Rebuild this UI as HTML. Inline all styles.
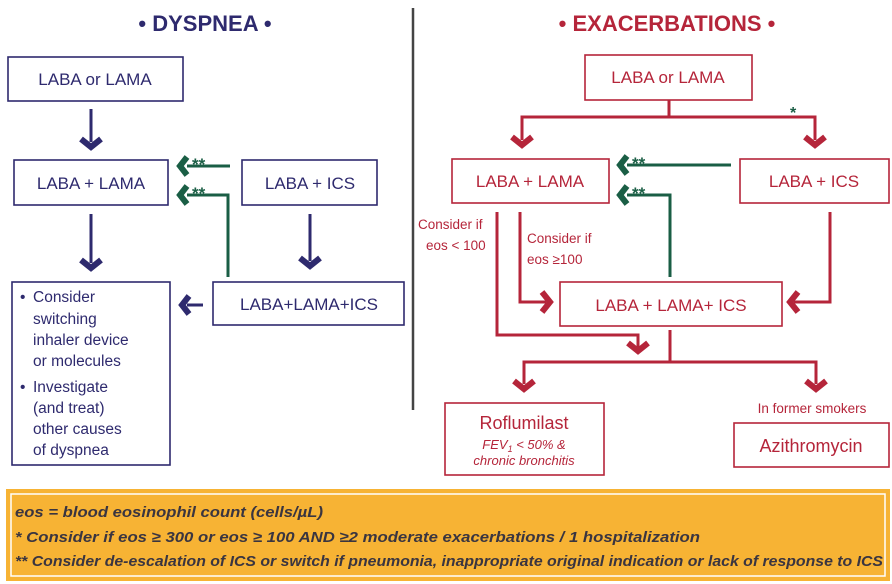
<!DOCTYPE html>
<html><head><meta charset="utf-8"><style>
html,body{margin:0;padding:0;background:#fff}
svg{display:block}
text{font-family:"Liberation Sans",sans-serif}
</style></head><body>
<svg width="892" height="584" viewBox="0 0 892 584" xmlns="http://www.w3.org/2000/svg">
<g fill="none" stroke-width="1.6">
<g stroke="#2e2a6e">
<rect x="8" y="57" width="175" height="44"/>
<rect x="14" y="160" width="154" height="45"/>
<rect x="242" y="160" width="135" height="45"/>
<rect x="12" y="282" width="158" height="183"/>
<rect x="213" y="282" width="191" height="43"/>
</g>
<g stroke="#b5253a">
<rect x="585" y="55" width="167" height="45"/>
<rect x="452" y="159" width="157" height="44"/>
<rect x="740" y="159" width="149" height="44"/>
<rect x="560" y="282" width="222" height="44"/>
<rect x="445" y="403" width="159" height="72"/>
<rect x="734" y="423" width="155" height="44"/>
</g>
</g>
<line x1="413" y1="8" x2="413" y2="410" stroke="#444" stroke-width="2.5"/>
<g stroke="#2e2a6e" fill="none">
<line x1="91" y1="109" x2="91" y2="142" stroke-width="3"/>
<polyline points="81,139 91,147 101,139" stroke-width="6"/>
<line x1="91" y1="214" x2="91" y2="263" stroke-width="3"/>
<polyline points="81,260 91,268 101,260" stroke-width="6"/>
<line x1="310" y1="214" x2="310" y2="261" stroke-width="3"/>
<polyline points="300,258 310,266 320,258" stroke-width="6"/>
<line x1="187" y1="305" x2="203" y2="305" stroke-width="3"/>
<polyline points="189,296 182,305 189,314" stroke-width="6"/>
</g>
<g stroke="#1a5e45" fill="none">
<line x1="187" y1="166" x2="230" y2="166" stroke-width="3"/>
<polyline points="187,157 180,166 187,175" stroke-width="6"/>
<polyline points="187,195 228,195 228,277" stroke-width="3"/>
<polyline points="187,186 180,195 187,204" stroke-width="6"/>
<line x1="627" y1="165" x2="731" y2="165" stroke-width="3"/>
<polyline points="627,156 620,165 627,174" stroke-width="6"/>
<polyline points="627,195 670,195 670,277" stroke-width="3"/>
<polyline points="627,186 620,195 627,204" stroke-width="6"/>
</g>
<g fill="#1a5e45" font-weight="bold" font-size="17">
<text x="192" y="170">**</text><text x="192" y="199">**</text>
<text x="632" y="169">**</text><text x="632" y="199">**</text>
<text x="790" y="118" font-size="16">*</text>
</g>
<g stroke="#b5253a" fill="none">
<polyline points="669,100 669,117" stroke-width="3"/>
<polyline points="522,140 522,117 815,117 815,140" stroke-width="3"/>
<polyline points="512,137 522,145 532,137" stroke-width="6"/>
<polyline points="805,137 815,145 825,137" stroke-width="6"/>
<polyline points="497,212 497,335 638,335 638,347" stroke-width="3"/>
<polyline points="628,343 638,351 648,343" stroke-width="6"/>
<polyline points="520,212 520,302 546,302" stroke-width="3"/>
<polyline points="542,292 550,302 542,312" stroke-width="6"/>
<polyline points="830,212 830,302 794,302" stroke-width="3"/>
<polyline points="798,292 790,302 798,312" stroke-width="6"/>
<polyline points="670,330 670,362" stroke-width="3"/>
<polyline points="524,384 524,362 816,362 816,384" stroke-width="3"/>
<polyline points="514,381 524,389 534,381" stroke-width="6"/>
<polyline points="806,381 816,389 826,381" stroke-width="6"/>
</g>
<text x="205" y="31" text-anchor="middle" font-size="22" font-weight="bold" fill="#2e2a6e">• DYSPNEA •</text>
<text x="667" y="31" text-anchor="middle" font-size="22" font-weight="bold" fill="#b5253a">• EXACERBATIONS •</text>
<g fill="#2e2a6e" font-size="17" text-anchor="middle">
<text x="95" y="85">LABA or LAMA</text>
<text x="91" y="189">LABA + LAMA</text>
<text x="310" y="189">LABA + ICS</text>
<text x="309" y="310">LABA+LAMA+ICS</text>
</g>
<g fill="#2e2a6e" font-size="15.5">
<text x="20" y="302">•</text><text x="33" y="302">Consider</text>
<text x="33" y="324">switching</text>
<text x="33" y="345">inhaler device</text>
<text x="33" y="366">or molecules</text>
<text x="20" y="392">•</text><text x="33" y="392">Investigate</text>
<text x="33" y="413">(and treat)</text>
<text x="33" y="434">other causes</text>
<text x="33" y="455">of dyspnea</text>
</g>
<g fill="#b5253a" font-size="17" text-anchor="middle">
<text x="668" y="83">LABA or LAMA</text>
<text x="530" y="187">LABA + LAMA</text>
<text x="814" y="187">LABA + ICS</text>
<text x="671" y="311">LABA + LAMA+ ICS</text>
<text x="524" y="429" font-size="18">Roflumilast</text>
<text x="811" y="452" font-size="18">Azithromycin</text>
</g>
<g fill="#b5253a" font-size="13.5">
<text x="418" y="229">Consider if</text>
<text x="426" y="250">eos &lt; 100</text>
<text x="527" y="243">Consider if</text>
<text x="527" y="264">eos ≥100</text>
<text x="812" y="413" text-anchor="middle">In former smokers</text>
<text x="524" y="449" text-anchor="middle" font-style="italic" font-size="13">FEV<tspan font-size="9" dy="3">1</tspan><tspan dy="-3"> &lt; 50% &amp;</tspan></text>
<text x="524" y="465" text-anchor="middle" font-style="italic" font-size="13">chronic bronchitis</text>
</g>
<rect x="6" y="489" width="884" height="92" fill="#f7b334"/>
<rect x="11" y="494" width="874" height="82" fill="none" stroke="#fff" stroke-width="1.5"/>
<g fill="#3a3540" font-size="15" font-style="italic" font-weight="bold">
<text x="15" y="517" textLength="308" lengthAdjust="spacingAndGlyphs">eos = blood eosinophil count (cells/µL)</text>
<text x="15" y="542" textLength="685" lengthAdjust="spacingAndGlyphs">* Consider if eos ≥ 300 or eos ≥ 100 AND ≥2 moderate exacerbations / 1 hospitalization</text>
<text x="15" y="566" textLength="868" lengthAdjust="spacingAndGlyphs">** Consider de-escalation of ICS or switch if pneumonia, inappropriate original indication or lack of response to ICS</text>
</g>
</svg>
</body></html>
